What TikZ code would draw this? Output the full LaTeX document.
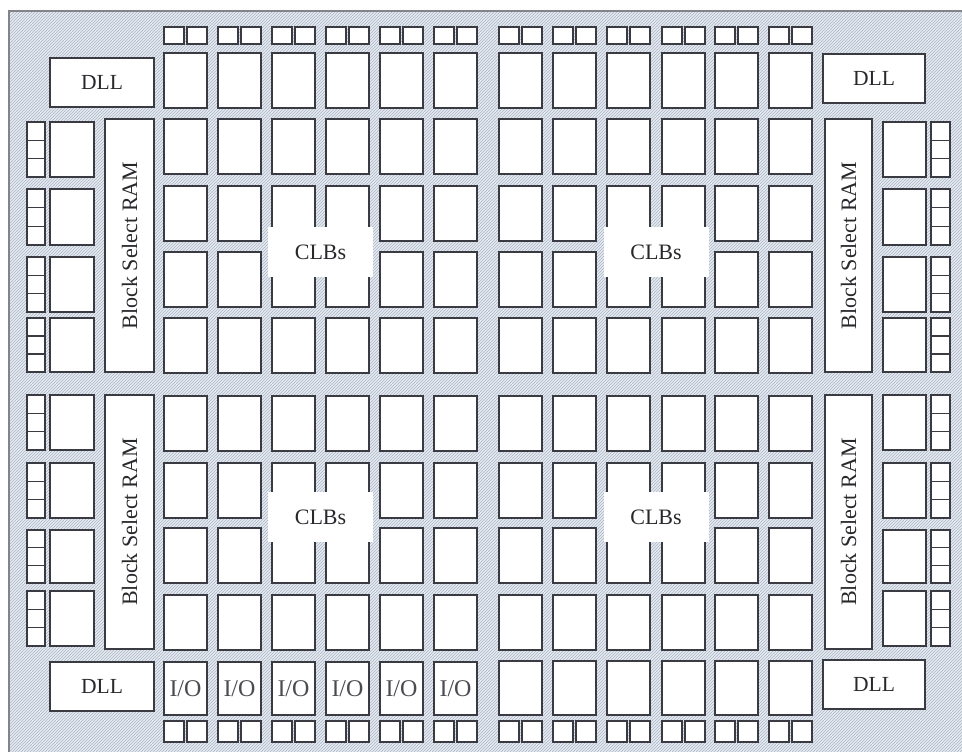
\documentclass[tikz,border=0pt]{standalone}
\usepackage{fontspec}
\setmainfont{Liberation Serif}
\usetikzlibrary{calc,patterns}
\definecolor{edge}{RGB}{58,58,66}
\definecolor{bgfill}{RGB}{230,234,240}
\definecolor{hatch}{RGB}{172,182,198}
\definecolor{frame}{RGB}{130,132,140}
\definecolor{txt}{RGB}{40,40,45}
\definecolor{iotxt}{RGB}{75,75,82}
\newcommand{\bx}[6][]{%
  \pgfmathsetmacro{\blkW}{#5-#3}\pgfmathsetmacro{\blkH}{#6-#4}%
  \node[blk, minimum width=\blkW pt, minimum height=\blkH pt, #1] (#2) at (#3,#4) {};}
\newcommand{\stk}[5]{%
  \bx{#1}{#2}{#3}{#4}{#5}%
  \draw[edge line] ($(#1.north west)!1/3!(#1.south west)$) -- ($(#1.north east)!1/3!(#1.south east)$);
  \draw[edge line] ($(#1.north west)!2/3!(#1.south west)$) -- ($(#1.north east)!2/3!(#1.south east)$);}
\begin{document}
\begin{tikzpicture}[x=1pt,y=-1pt,
  blk/.style={draw=edge, line width=1.5pt, fill=white, rectangle, inner sep=0pt, outer sep=0pt, anchor=north west},
  edge line/.style={draw=edge, line width=1.5pt},
  lbl/.style={font=\fontsize{21.5}{22}\selectfont, text=txt, inner sep=0pt},
  iolbl/.style={font=\fontsize{24}{24}\selectfont, text=iotxt},
  bsrlbl/.style={font=\fontsize{22}{22}\selectfont, text=txt, rotate=90, inner sep=0pt},
  clbpatch/.style={fill=white, draw=none, rectangle, inner sep=0pt, minimum width=105pt, minimum height=50pt, font=\fontsize{22}{22}\selectfont, text=txt}]
\useasboundingbox (0,0) rectangle (962,752);
\clip (0,0) rectangle (962,752);
\fill[white] (0,0) rectangle (962,752);
% chip outline with hatched background
\fill[bgfill] (9,11) rectangle (990,780);
\fill[pattern=north east lines, pattern color=hatch] (9,11) rectangle (990,780);
\draw[frame, line width=1.6pt] (9,780) -- (9,11) -- (990,11);
% CLB array
\foreach \c [count=\i] in {164,218,272,326,380,434,499,553,607,662,715,769} {
  \pgfmathsetmacro{\cr}{\c+43}
  \foreach \r [count=\j] in {53,119,186,252,318,396,463,528,595} {
    \pgfmathsetmacro{\rb}{\r+55}
    \bx{clb-\i-\j}{\c}{\r}{\cr}{\rb}
  }
  % top and bottom I/O pads
  \pgfmathsetmacro{\ca}{\c+20}\pgfmathsetmacro{\cb}{\c+23}
  \bx{padt-\i-a}{\c}{27}{\ca}{44}
  \bx{padt-\i-b}{\cb}{27}{\cr}{44}
  \bx{padb-\i-a}{\c}{721}{\ca}{742}
  \bx{padb-\i-b}{\cb}{721}{\cr}{742}
}
% bottom row: I/O blocks on the left half, plain CLBs on the right half
\foreach \c [count=\i] in {164,218,272,326,380,434} {
  \pgfmathsetmacro{\cr}{\c+43}
  \bx{io-\i}{\c}{662}{\cr}{715}
  \node[iolbl] (iot-\i) at (io-\i.center) {I/O};
}
\foreach \c [count=\i] in {499,553,607,662,715,769} {
  \pgfmathsetmacro{\cr}{\c+43}
  \bx{clb-b-\i}{\c}{661}{\cr}{715}
}
% DLLs
\bx{dllTL}{50}{58}{154}{107}
\bx{dllTR}{823}{54}{925}{103}
\bx{dllBL}{50}{662}{154}{711}
\bx{dllBR}{823}{660}{925}{709}
\foreach \n in {dllTL,dllTR,dllBL,dllBR} { \node[lbl] at (\n.center) {DLL}; }
% Block Select RAM
\bx{bsrUL}{105}{119}{154}{372}
\bx{bsrLL}{105}{395}{154}{649}
\bx{bsrUR}{825}{119}{872}{372}
\bx{bsrLR}{825}{395}{872}{649}
\foreach \n in {bsrUL,bsrLL,bsrUR,bsrLR} { \node[bsrlbl] at (\n.center) {Block Select RAM}; }
% side I/O blocks and pad stacks
\foreach \t/\b [count=\k] in {122/177,189/245,257/312,318/372,395/450,463/518,530/583,591/646} {
  \bx{sideL-\k}{50}{\t}{94}{\b}
  \stk{stkL-\k}{27}{\t}{45}{\b}
  \bx{sideR-\k}{883}{\t}{926}{\b}
  \stk{stkR-\k}{931}{\t}{950}{\b}
}
% CLBs labels
\node[clbpatch] (clbUL) at (320.5,252) {CLBs};
\node[clbpatch] (clbUR) at (656,252) {CLBs};
\node[clbpatch] (clbLL) at (320.5,517) {CLBs};
\node[clbpatch] (clbLR) at (656,517) {CLBs};
\end{tikzpicture}
\end{document}
